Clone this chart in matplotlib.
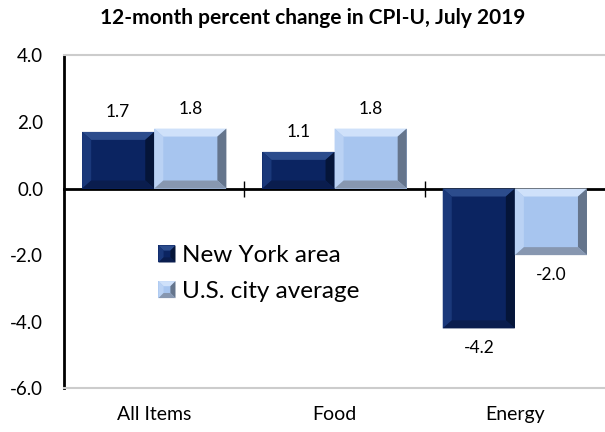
import matplotlib
matplotlib.use("Agg")
import matplotlib.pyplot as plt
from matplotlib.patches import Polygon
from matplotlib.legend_handler import HandlerBase
import numpy as np

plt.rcParams['font.family'] = ['Lato', 'DejaVu Sans']

# data
categories = ["All Items", "Food", "Energy"]
ny_area = [1.7, 1.1, -4.2]
us_avg = [1.8, 1.8, -2.0]
series_names = ["New York area", "U.S. city average"]
y_ticks = [4.0, 2.0, 0.0, -2.0, -4.0, -6.0]

# face, top, left, right, bottom bevel colours
ny_cols = ["#0b2461", "#2c4c8c", "#1a387a", "#051539", "#0a1d4e"]
us_cols = ["#a7c5ef", "#cfe1fa", "#bad2f4", "#65758c", "#8797b0"]


def bevel(ax, x0, y0, x1, y1, cols, bx, by, zorder=3):
    # four trapezoids round the face, like Excel's "bevel" bar style
    pts = {
        "top": [(x0, y1), (x1, y1), (x1 - bx, y1 - by), (x0 + bx, y1 - by)],
        "left": [(x0, y0), (x0, y1), (x0 + bx, y1 - by), (x0 + bx, y0 + by)],
        "right": [(x1, y0), (x1, y1), (x1 - bx, y1 - by), (x1 - bx, y0 + by)],
        "bottom": [(x0, y0), (x1, y0), (x1 - bx, y0 + by), (x0 + bx, y0 + by)],
    }
    order = ["top", "left", "right", "bottom"]
    out = []
    for k, c in zip(order, cols[1:]):
        p = Polygon(pts[k], closed=True, facecolor=c, edgecolor="none", zorder=zorder)
        out.append(p)
        if ax is not None:
            ax.add_patch(p)
    return out


class HandlerBevel(HandlerBase):
    def __init__(self, cols):
        super().__init__()
        self.cols = cols

    def create_artists(self, legend, orig_handle, xdescent, ydescent, width, height, fontsize, trans):
        s = min(width, height)
        x0, y0 = -xdescent, -ydescent + (height - s) / 2
        face = Polygon([(x0, y0), (x0 + s, y0), (x0 + s, y0 + s), (x0, y0 + s)],
                       facecolor=self.cols[0], edgecolor="none", transform=trans)
        arts = [face] + bevel(None, x0, y0, x0 + s, y0 + s, self.cols, s * 0.3, s * 0.3)
        for a in arts:
            a.set_transform(trans)
        return arts


fig = plt.figure(figsize=(6.05, 4.32), dpi=100)
ax = fig.add_axes([0.106, 0.101, 0.894, 0.771])

x = np.arange(len(categories))
w = 0.4
b1 = ax.bar(x - w / 2, ny_area, w, color=ny_cols[0], zorder=2, label=series_names[0])
b2 = ax.bar(x + w / 2, us_avg, w, color=us_cols[0], zorder=2, label=series_names[1])

ax.set_xlim(-0.5, 2.5)
ax.set_ylim(-6, 4)

# bevel sizes in data units (~9 px wide, ~8 px tall)
bx, by = 0.05, 0.24
for bars, cols in [(b1, ny_cols), (b2, us_cols)]:
    for p in bars:
        bb = p.get_bbox()
        x0, x1 = sorted([bb.x0, bb.x1])
        y0, y1 = sorted([bb.y0, bb.y1])
        bevel(ax, x0, y0, x1, y1, cols, bx, min(by, (y1 - y0) / 3))

# value labels
for bars, vals in [(b1, ny_area), (b2, us_avg)]:
    for p, v in zip(bars, vals):
        cx = p.get_x() + p.get_width() / 2
        off = 14 if v >= 0 else -14
        ax.annotate(f"{v:.1f}", (cx, v), xytext=(0, off), textcoords="offset points",
                    ha="center", va="center", fontsize=12.5)

ax.set_xticks(x)
ax.set_xticklabels(categories, fontsize=14)
ax.tick_params(axis="x", length=0, pad=13)
ax.set_yticks(y_ticks)
ax.set_yticklabels([f"{t:.1f}" for t in y_ticks], fontsize=13.5)
ax.tick_params(axis="y", length=0, pad=15)

ax.spines["right"].set_visible(False)
ax.spines["left"].set_color("black")
ax.spines["left"].set_linewidth(2)
for s in ["top", "bottom"]:
    ax.spines[s].set_color("#cccccc")
    ax.spines[s].set_linewidth(1.5)

# zero line with category separators
zero_frac = (0 - ax.get_ylim()[0]) / (ax.get_ylim()[1] - ax.get_ylim()[0])
sec = ax.secondary_xaxis(zero_frac)
sec.set_xticks([0.5, 1.5])
sec.set_xticklabels(["", ""])
sec.tick_params(direction="inout", length=11, width=1, color="black")
for s in ["top", "bottom"]:
    sec.spines[s].set_color("black")
    sec.spines[s].set_linewidth(2)

fig.text(0.517, 0.958, "12-month percent change in CPI-U, July 2019", fontsize=15,
         fontweight="bold", ha="center", va="center")

ax.legend(handles=[b1, b2], labels=series_names, loc="center left",
          bbox_to_anchor=(0.134, 0.344), frameon=False, fontsize=17.5,
          handler_map={b1: HandlerBevel(ny_cols), b2: HandlerBevel(us_cols)},
          handlelength=0.7, handleheight=0.7, handletextpad=0.25, labelspacing=0.6)

fig.savefig("out.png", dpi=100)
